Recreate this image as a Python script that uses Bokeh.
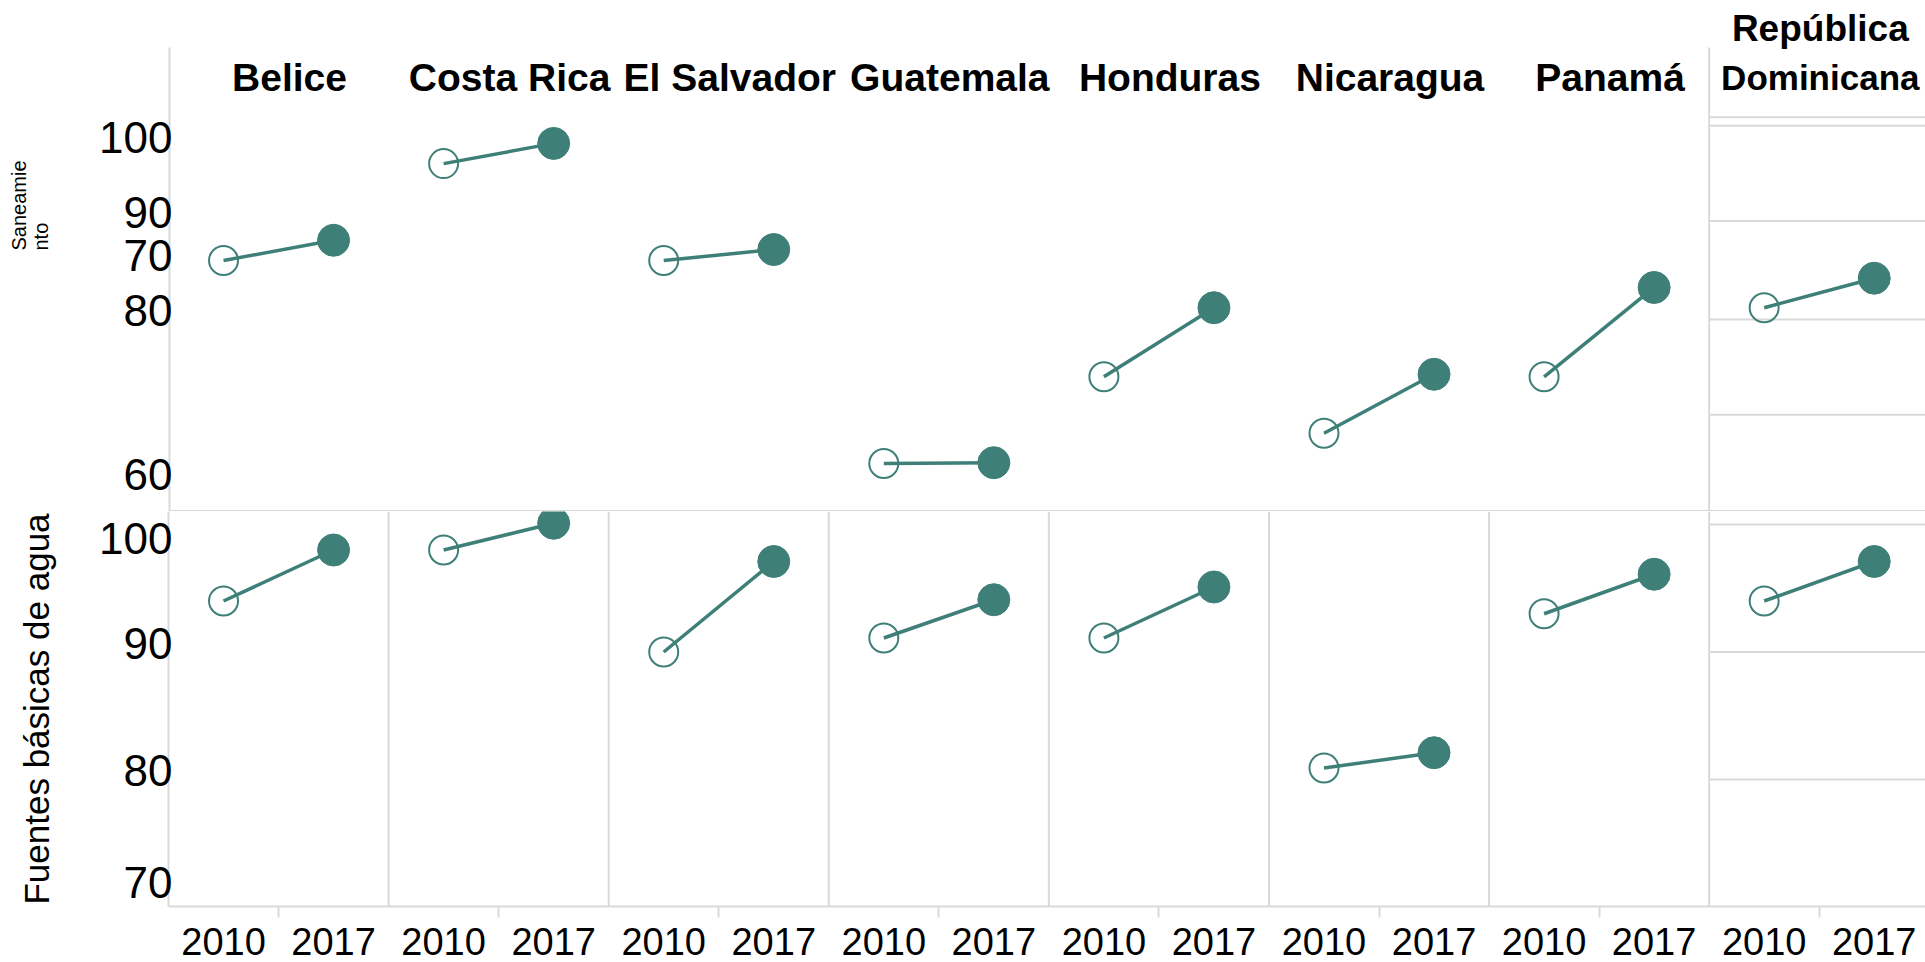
from bokeh.plotting import figure
from bokeh.layouts import column
from bokeh.models import FixedTicker, Range1d, Label, Span, Title
from bokeh.embed import file_html
from bokeh.resources import INLINE

# ---------------- data ----------------
countries = ["Belice", "Costa Rica", "El Salvador", "Guatemala",
             "Honduras", "Nicaragua", "Panamá", "República Dominicana"]
title_lines = [["Belice"], ["Costa Rica"], ["El Salvador"], ["Guatemala"],
               ["Honduras"], ["Nicaragua"], ["Panamá"], ["República", "Dominicana"]]
years = ["2010", "2017"]

# Saneamiento (top row)
san_2010 = [85.4, 96.9, 85.4, 61.3, 71.6, 64.9, 71.6, 79.8]
san_2017 = [87.8, 99.3, 86.7, 61.4, 79.8, 71.9, 82.2, 83.3]
# Fuentes básicas de agua (bottom row)
agua_2010 = [94.0, 98.0, 90.0, 91.1, 91.1, 80.9, 93.0, 94.0]
agua_2017 = [98.0, 100.1, 97.1, 94.1, 95.1, 82.1, 96.1, 97.1]

# tick labels as printed in the original (the top axis is irregular)
san_tick_vals = [100, 91.1, 86.0, 79.5, 60]
san_tick_labels = ["100", "90", "70", "80", "60"]
agua_tick_vals = [98.9, 90.7, 80.7, 71.9]
agua_tick_labels = ["100", "90", "80", "70"]

# gridlines visible only in the República Dominicana panel
rd_grid_san = [102.4, 101.4, 90.1, 78.4, 67.1]
rd_grid_agua = [100, 90, 80]

# ---------------- style ----------------
TEAL = "#3e7f78"
GRID = "#d9d9d9"
FONT = "Liberation Sans"
W = 1925
LEFT = 168
N = len(countries)
XMAX = 7.983
SAN_LO, SAN_PANEL_TOP, SAN_HI = 55.61, 110.68, 116.26
AGUA_LO, AGUA_HI = 70.04, 101.02

x10 = [k + 0.25 for k in range(N)]
x17 = [k + 0.75 for k in range(N)]


def base_fig(height, y_range, bottom_border):
    p = figure(width=W, height=height, x_range=Range1d(0, XMAX), y_range=y_range,
               output_backend="svg", toolbar_location=None,
               min_border_left=LEFT, min_border_right=0,
               min_border_top=0, min_border_bottom=bottom_border)
    p.xgrid.visible = False
    p.ygrid.visible = False
    p.outline_line_color = None
    p.background_fill_color = "white"
    p.border_fill_color = "white"
    ya = p.yaxis[0]
    ya.axis_line_color = GRID
    ya.axis_line_width = 2
    ya.major_tick_line_color = None
    ya.minor_tick_line_color = None
    ya.major_tick_out = 0
    ya.major_tick_in = 0
    ya.major_label_standoff = -4
    ya.major_label_text_font = FONT
    ya.major_label_text_font_size = "44px"
    ya.major_label_text_color = "black"
    ya.axis_label_text_font = FONT
    ya.axis_label_text_font_style = "normal"
    ya.axis_label_text_color = "black"
    return p


def draw_pairs(p, v10, v17):
    p.segment(x0=x10, y0=v10, x1=x17, y1=v17, line_color=TEAL, line_width=3.5)
    p.scatter(x10, v10, size=29, fill_color=None, line_color=TEAL, line_width=2)
    p.scatter(x17, v17, size=32, fill_color=TEAL, line_color=TEAL, line_width=1)


# ---------------- top row: Saneamiento ----------------
top = base_fig(511, Range1d(SAN_LO, SAN_HI), 0)
top.xaxis.visible = False
ta = top.yaxis[0]
ta.ticker = FixedTicker(ticks=san_tick_vals)
ta.major_label_overrides = dict(zip(san_tick_vals, san_tick_labels))
ta.axis_line_color = None
# blank spacer label keeps the side title away from the tick labels
ta.axis_label = " "
ta.axis_label_text_font_size = "20px"
ta.axis_label_standoff = 20
top.add_layout(Title(text="Saneamie\nnto", align="left", vertical_align="bottom",
                     offset=261, standoff=0,
                     text_font=FONT, text_font_size="20px", text_font_style="normal",
                     text_color="black"), "left")

# left axis line and RD separator only over the white panel area
top.segment(x0=[0, 7], x1=[0, 7], y0=[SAN_LO, SAN_LO], y1=[SAN_PANEL_TOP, SAN_PANEL_TOP],
            line_color=GRID, line_width=[4, 2])
# boundary between the two rows
top.add_layout(Span(location=SAN_LO, dimension="width", line_color=GRID, line_width=3))
top.segment(x0=[7] * len(rd_grid_san), x1=[XMAX] * len(rd_grid_san),
            y0=rd_grid_san, y1=rd_grid_san, line_color=GRID, line_width=2)
draw_pairs(top, san_2010, san_2017)

# column titles
for k, lines in enumerate(title_lines):
    if len(lines) == 1:
        top.add_layout(Label(x=k + 0.55, y=107.1, text=lines[0], text_align="center",
                             text_baseline="middle", text_font=FONT,
                             text_font_size="39px", text_font_style="bold",
                             text_color="black"))
    else:
        for line, yv, fs in zip(lines, [112.9, 107.1], ["37px", "35px"]):
            top.add_layout(Label(x=k + 0.505, y=yv, text=line, text_align="center",
                                 text_baseline="middle", text_font=FONT,
                                 text_font_size=fs, text_font_style="bold",
                                 text_color="black"))

# ---------------- bottom row: Fuentes básicas de agua ----------------
bot = base_fig(451, Range1d(AGUA_LO, AGUA_HI), 56)
ba = bot.yaxis[0]
ba.ticker = FixedTicker(ticks=agua_tick_vals)
ba.major_label_overrides = dict(zip(agua_tick_vals, agua_tick_labels))
ba.axis_label = "Fuentes básicas de agua"
ba.axis_label_text_font_size = "35px"
ba.axis_label_standoff = 40

year_ticks = []
year_labels = {}
for k in range(N):
    year_ticks += [x10[k], x17[k]]
    year_labels[x10[k]] = years[0]
    year_labels[x17[k]] = years[1]
bx = bot.xaxis[0]
bx.ticker = FixedTicker(ticks=year_ticks, minor_ticks=[k + 0.5 for k in range(N)])
bx.major_label_overrides = year_labels
bx.major_tick_line_color = None
bx.major_tick_out = 0
bx.major_tick_in = 0
bx.minor_tick_in = 0
bx.minor_tick_out = 11
bx.minor_tick_line_color = GRID
bx.minor_tick_line_width = 2
bx.axis_line_color = GRID
bx.axis_line_width = 2
bx.major_label_standoff = 10
bx.major_label_text_font = FONT
bx.major_label_text_font_size = "38px"
bx.major_label_text_color = "black"

for k in range(1, N):
    bot.add_layout(Span(location=k, dimension="height", line_color=GRID, line_width=2))
bot.segment(x0=[7] * len(rd_grid_agua), x1=[XMAX] * len(rd_grid_agua),
            y0=rd_grid_agua, y1=rd_grid_agua, line_color=GRID, line_width=2)
draw_pairs(bot, agua_2010, agua_2017)

layout = column(top, bot, spacing=0)
open("out.html", "w").write(file_html(layout, INLINE))
